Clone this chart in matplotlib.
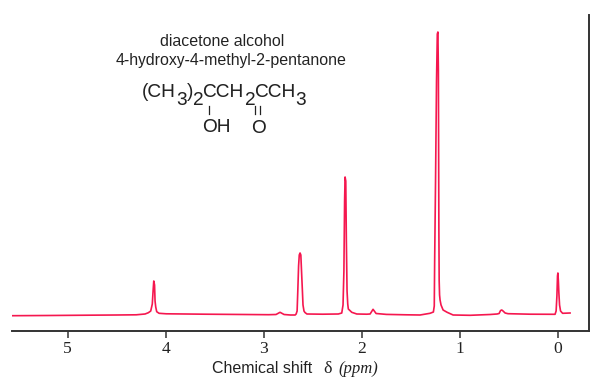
import matplotlib
matplotlib.use("Agg")
import matplotlib.pyplot as plt
from matplotlib.lines import Line2D

plt.rcParams["text.hinting"] = "no_autohint"

# spectrum: shift in ppm, height in arbitrary units
ppm = [5.56, 5.2, 4.8, 4.5, 4.3, 4.21, 4.176, 4.152, 4.136, 4.128, 4.121, 4.113, 4.108, 4.101, 4.091, 4.067,
       3.994, 3.6, 3.2, 2.95, 2.875, 2.834, 2.793, 2.73, 2.68, 2.67, 2.66, 2.653, 2.645, 2.638,
       2.63, 2.622, 2.615, 2.606, 2.60, 2.59, 2.58, 2.56, 2.4, 2.24, 2.205, 2.192, 2.183, 2.176,
       2.171, 2.164, 2.158, 2.151, 2.144, 2.138, 2.103, 2.052, 1.95, 1.916, 1.886, 1.855, 1.75, 1.55,
       1.407, 1.305, 1.271, 1.262, 1.258, 1.249, 1.239, 1.231, 1.225, 1.22, 1.215, 1.212, 1.208,
       1.203, 1.193, 1.172, 1.131, 1.07, 0.897, 0.693, 0.622, 0.601, 0.586, 0.574, 0.561, 0.54, 0.51,
       0.285, 0.031, 0.02, 0.012, 0.006, 0.002, -0.003, -0.008, -0.015, -0.025, -0.046, -0.122]
height = [15.3, 15.5, 15.8, 16, 16.2, 17, 18.3, 20, 27, 40, 50, 46, 30, 24, 19.3, 17.7,
          17.2, 16.8, 16.5, 16.3, 16.5, 18.7, 16.5, 16, 16, 17, 20, 40, 65, 76,
          78, 76, 60, 40, 26, 20, 18.5, 17, 16.8, 17, 18, 26, 60, 130,
          154, 150, 90, 40, 27, 22, 18.7, 17, 16.8, 17, 21.7, 17.5, 16.6, 16.2,
          16, 17.7, 19, 25, 70, 150, 250, 297, 299, 260, 100, 50, 36,
          31, 26, 21, 18.7, 16, 15.7, 16.5, 17, 17.5, 20.5, 21, 20, 18, 17.3,
          16.8, 16.7, 20, 35, 55, 58, 50, 38, 26, 20, 17.7, 18]
tick_vals = [5, 4, 3, 2, 1, 0]
title_lines = ["diacetone alcohol", "4-hydroxy-4-methyl-2-pentanone"]

W, H = 599, 384
fig = plt.figure(figsize=(W / 100, H / 100), dpi=100)
ax = fig.add_axes([12 / W, (H - 331) / H, 576.5 / W, 316 / H])


def px_text(x, y, s, size=14, ha="left", family="Liberation Sans", style="normal"):
    # x, y in image pixels, y is the text baseline
    fig.text(x / W, 1 - y / H, s, fontsize=size, ha=ha, va="baseline",
             family=family, style=style, color="#222222")


ax.plot(ppm, height, color="#F5174F", lw=1.2)
ax.set_xlim(5.566, -0.31)
ax.set_ylim(0, 316)
ax.set_yticks([])
ax.set_xticks(tick_vals)
ax.set_xticklabels([str(t) for t in tick_vals], family="Liberation Serif", fontsize=12.5, color="#222222")
ax.tick_params(axis="x", length=5, width=1.1, color="#333333", pad=2)
ax.spines["top"].set_visible(False)
ax.spines["left"].set_visible(False)
ax.spines["bottom"].set_linewidth(1.4)
ax.spines["right"].set_linewidth(1.4)
ax.spines["bottom"].set_color("#333333")
ax.spines["right"].set_color("#333333")

px_text(222.5, 46, title_lines[0], size=11.5, ha="center")
px_text(231, 65, title_lines[1], size=11.5, ha="center")

# condensed formula, set piece by piece
for x, y, s in [(142, 97, "(CH"), (176.5, 105, "3"), (187, 97, ")"), (192, 105, "2"),
                (202.5, 97, "CCH"), (244, 105, "2"), (254.5, 97, "CCH"), (295.5, 105, "3"),
                (202, 132.5, "OH"), (251, 133, "O")]:
    px_text(x, y, s, size=13.7)
for x in [209, 255, 260]:
    fig.add_artist(Line2D([x / W, x / W], [1 - 106 / H, 1 - 114 / H], color="#222222", lw=0.9))

px_text(212, 373, "Chemical shift", size=11.5)
px_text(323, 373, "δ", size=13, family="Liberation Serif")
px_text(338, 373, "(ppm)", size=12, family="Liberation Serif", style="italic")

fig.savefig("out.png", dpi=100)
